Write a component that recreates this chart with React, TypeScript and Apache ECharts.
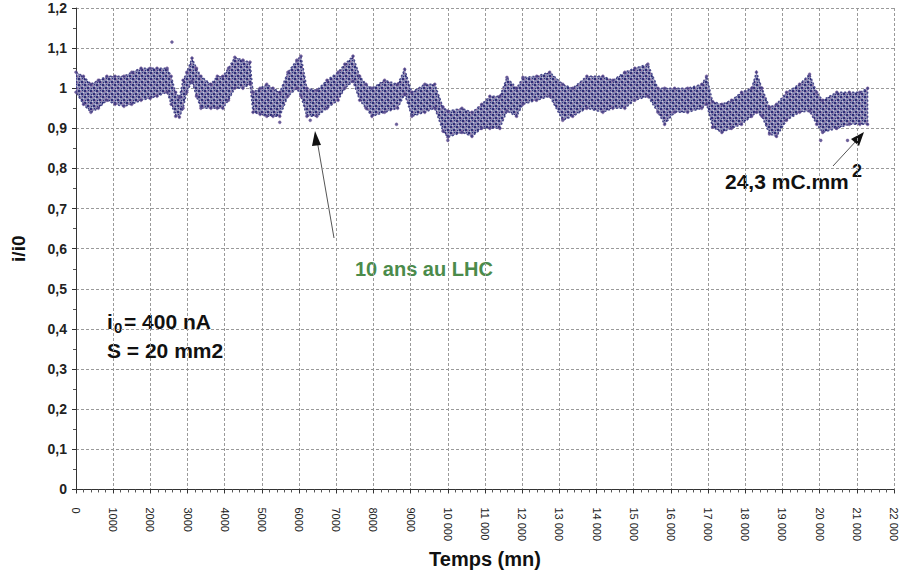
import React, { useEffect, useRef } from "react";
import * as echarts from "echarts";

// Envelope of the dense measurement cloud (time in mn, low / high edge of i/i0)
const bandX = [0, 200, 400, 600, 830, 1050, 1290, 1500, 1750, 2000, 2180, 2450, 2560, 2680, 2780, 2880, 2980, 3120, 3240, 3360, 3630, 3800, 3950, 4100, 4270, 4490, 4680, 4760, 4950, 5130, 5300, 5480, 5700, 5940, 6050, 6210, 6480, 6750, 7050, 7230, 7450, 7630, 7800, 7960, 8300, 8650, 8840, 9030, 9380, 9650, 9870, 10000, 10380, 10650, 10910, 11130, 11400, 11590, 11850, 12020, 12390, 12740, 13090, 13360, 13740, 14170, 14440, 14760, 15030, 15380, 15650, 15830, 16100, 16450, 16830, 16960, 17120, 17370, 17630, 17900, 18170, 18300, 18450, 18650, 18840, 19110, 19460, 19730, 19920, 20080, 20460, 20800, 21080, 21290];
const bandLo = [0.99, 0.96, 0.94, 0.95, 0.97, 0.96, 0.955, 0.96, 0.97, 0.975, 0.98, 0.99, 0.96, 0.93, 0.928, 0.95, 0.99, 1.017, 0.98, 0.95, 0.95, 0.95, 0.95, 0.97, 1.0, 1.0, 1.01, 0.94, 0.935, 0.93, 0.93, 0.93, 0.98, 1.0, 0.98, 0.93, 0.93, 0.95, 0.97, 1.0, 1.017, 0.97, 0.95, 0.93, 0.94, 0.95, 0.985, 0.93, 0.94, 0.95, 0.893, 0.878, 0.89, 0.88, 0.9, 0.9, 0.9, 0.943, 0.93, 0.96, 0.97, 0.98, 0.92, 0.93, 0.95, 0.94, 0.95, 0.95, 0.97, 0.98, 0.94, 0.91, 0.94, 0.94, 0.95, 0.96, 0.903, 0.89, 0.9, 0.91, 0.93, 0.94, 0.93, 0.886, 0.88, 0.92, 0.94, 0.943, 0.91, 0.89, 0.9, 0.91, 0.91, 0.91];
const bandHi = [1.04, 1.03, 1.01, 1.02, 1.03, 1.03, 1.03, 1.04, 1.05, 1.05, 1.05, 1.05, 1.03, 0.99, 0.977, 1.02, 1.04, 1.075, 1.05, 1.03, 1.01, 1.03, 1.03, 1.05, 1.077, 1.07, 1.065, 0.99, 1.0, 1.01, 1.0, 0.99, 1.04, 1.07, 1.08, 1.0, 0.995, 1.02, 1.04, 1.06, 1.08, 1.03, 1.01, 1.0, 1.02, 1.01, 1.047, 0.99, 1.01, 1.01, 0.953, 0.943, 0.95, 0.94, 0.96, 0.98, 0.98, 1.027, 1.0, 1.027, 1.03, 1.04, 1.01, 1.0, 1.03, 1.03, 1.02, 1.04, 1.05, 1.06, 1.0, 1.0, 1.0, 1.0, 1.01, 1.03, 0.967, 0.96, 0.97, 0.99, 1.0, 1.04, 1.0, 0.953, 0.96, 0.99, 1.01, 1.035, 0.99, 0.97, 0.99, 0.99, 0.99, 1.0];

// Isolated points outside the cloud
const outlierX = [2580, 5480, 6300, 8620, 10000, 20030, 20750];
const outlierY = [1.115, 0.915, 0.92, 0.91, 0.87, 0.87, 0.87];

const xTickLabels = ["0", "1000", "2000", "3000", "4000", "5000", "6000", "7000", "8000", "9000", "10 000", "11 000", "12 000", "13 000", "14 000", "15 000", "16 000", "17 000", "18 000", "19 000", "20 000", "21 000", "22 000"];
const yTickLabels = ["0", "0,1", "0,2", "0,3", "0,4", "0,5", "0,6", "0,7", "0,8", "0,9", "1", "1,1", "1,2"];

const FONT = "Liberation Sans, Arial, sans-serif";

function makeDotPattern(): HTMLCanvasElement {
  const c = document.createElement("canvas");
  c.width = 6;
  c.height = 6;
  const g = c.getContext("2d")!;
  g.fillStyle = "#8a8ab4";
  g.fillRect(0, 0, 6, 6);
  g.fillStyle = "#2e2e78";
  g.fillRect(0, 0, 2, 2);
  g.fillRect(3, 3, 2, 2);
  g.fillRect(4, 0, 1, 1);
  g.fillRect(1, 4, 1, 1);
  g.fillStyle = "#9a6a9e";
  g.fillRect(2, 1, 1, 1);
  g.fillRect(5, 4, 1, 1);
  g.fillStyle = "#c9c9dc";
  g.fillRect(2, 5, 1, 1);
  g.fillRect(5, 2, 1, 1);
  return c;
}

export default function App() {
  const ref = useRef<HTMLDivElement>(null);
  useEffect(() => {
    if (!ref.current) return;
    const chart = echarts.init(ref.current, null, { renderer: "svg" });
    const bandData = bandX.map((x, i) => [x, bandLo[i], bandHi[i]]);
    const edgeData = bandX.map((x, i) => [x, bandLo[i]]).concat(bandX.map((x, i) => [x, bandHi[i]]));
    const outData = outlierX.map((x, i) => [x, outlierY[i]]);
    const pattern = { image: makeDotPattern(), repeat: "repeat" };
    const gridLine = { show: true, lineStyle: { color: "#9a9a9a", type: [3, 2] as any, width: 1 } };
    chart.setOption({
      animation: false,
      backgroundColor: "#ffffff",
      grid: { left: 76, right: 17, top: 8, bottom: 81, containLabel: false },
      xAxis: {
        type: "value",
        min: 0,
        max: 22000,
        interval: 1000,
        name: "Temps (mn)",
        nameLocation: "middle",
        nameGap: 58,
        nameTextStyle: { fontFamily: FONT, fontWeight: "bold", fontSize: 20, color: "#111" },
        axisLine: { show: true, onZero: false, lineStyle: { color: "#333", width: 1 } },
        axisTick: { show: true, length: 4, lineStyle: { color: "#333" } },
        minorTick: { show: true, splitNumber: 5, length: 3, lineStyle: { color: "#555" } },
        splitLine: gridLine,
        axisLabel: {
          rotate: -90,
          margin: 18,
          fontFamily: FONT,
          fontSize: 11,
          color: "#222",
          formatter: (v: number) => xTickLabels[Math.round(v / 1000)] ?? "",
        },
      },
      yAxis: {
        type: "value",
        min: 0,
        max: 1.2,
        interval: 0.1,
        name: "i/i0",
        nameLocation: "middle",
        nameGap: 48,
        nameRotate: 90,
        nameTextStyle: { fontFamily: FONT, fontWeight: "bold", fontSize: 19, color: "#111" },
        axisLine: { show: true, lineStyle: { color: "#333", width: 1 } },
        axisTick: { show: true, length: 4, lineStyle: { color: "#333" } },
        minorTick: { show: true, splitNumber: 2, length: 3, lineStyle: { color: "#555" } },
        splitLine: gridLine,
        axisLabel: {
          margin: 9,
          fontFamily: FONT,
          fontWeight: "bold",
          fontSize: 14,
          color: "#222",
          formatter: (v: number) => yTickLabels[Math.round(v * 10)] ?? "",
        },
      },
      series: [
        {
          type: "custom",
          data: bandData,
          silent: true,
          clip: true,
          renderItem: (params: any, api: any) => {
            if (params.dataIndex !== 0) return { type: "group", children: [] };
            const top = bandX.map((x, i) => api.coord([x, bandHi[i]]));
            const bottom = bandX.map((x, i) => api.coord([x, bandLo[i]])).reverse();
            return {
              type: "polygon",
              shape: { points: top.concat(bottom) },
              style: { fill: pattern, stroke: "#4a4a8c", lineWidth: 1.5, lineDash: [2, 2] },
            };
          },
        },
        {
          type: "scatter",
          data: edgeData,
          symbolSize: 3,
          itemStyle: { color: "#3c3c82", borderColor: "#8a5a9a", borderWidth: 0.5 },
          silent: true,
        },
        {
          type: "scatter",
          data: outData,
          symbolSize: 3,
          itemStyle: { color: "#3c3c82", borderColor: "#8a5a9a", borderWidth: 0.5 },
          silent: true,
        },
      ],
      graphic: [
        { type: "line", shape: { x1: 334, y1: 238, x2: 317, y2: 140 }, style: { stroke: "#555", lineWidth: 1 } },
        { type: "polygon", shape: { points: [[315, 131], [321, 145], [312, 146]] }, style: { fill: "#111" } },
        { type: "text", left: 355, top: 259, style: { text: "10 ans au LHC", font: `bold 20px ${FONT}`, fill: "#4b8b4b" } },
        { type: "line", shape: { x1: 833, y1: 166, x2: 857, y2: 140 }, style: { stroke: "#555", lineWidth: 1 } },
        { type: "polygon", shape: { points: [[864, 132], [859, 146], [851, 139]] }, style: { fill: "#111" } },
        { type: "text", left: 725, top: 171, style: { text: "24,3 mC.mm", font: `bold 21px ${FONT}`, fill: "#111" } },
        { type: "text", left: 852, top: 162, style: { text: "2", font: `bold 18px ${FONT}`, fill: "#111" } },
        { type: "text", left: 107, top: 311, style: { text: "i", font: `bold 21px ${FONT}`, fill: "#111" } },
        { type: "text", left: 114, top: 320, style: { text: "0", font: `bold 15px ${FONT}`, fill: "#111" } },
        { type: "text", left: 124, top: 311, style: { text: "= 400 nA", font: `bold 21px ${FONT}`, fill: "#111" } },
        { type: "text", left: 107, top: 340, style: { text: "S = 20 mm2", font: `bold 21px ${FONT}`, fill: "#111" } },
      ],
    });
    return () => chart.dispose();
  }, []);
  return <div ref={ref} style={{ position: "fixed", left: 0, top: 0, width: 911, height: 574 }} />;
}
